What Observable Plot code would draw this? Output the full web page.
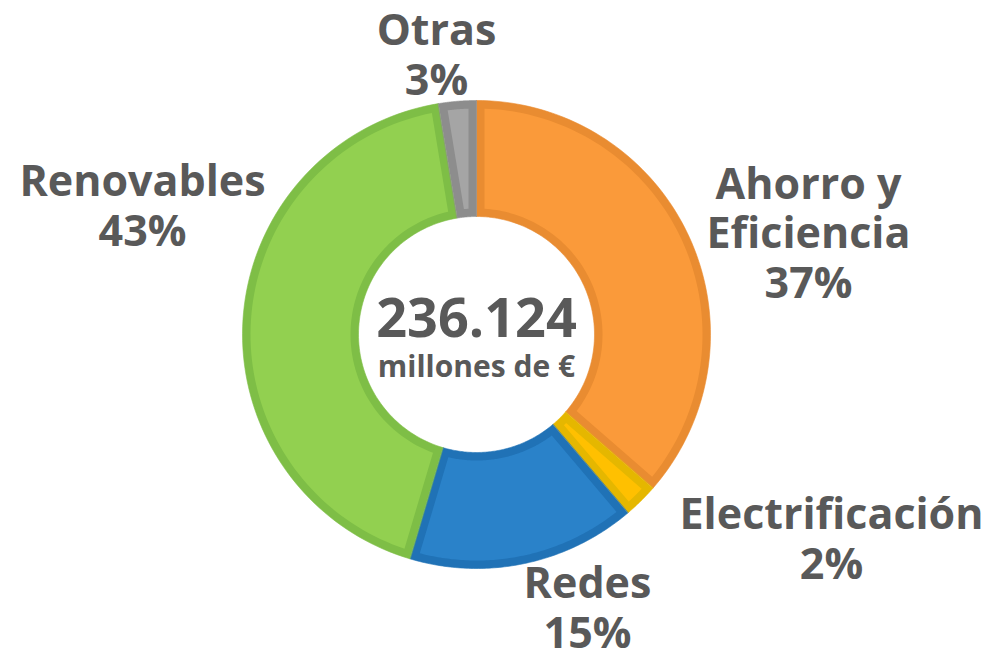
<!DOCTYPE html>
<html>
<head>
<meta charset="utf-8">
<script src="https://cdn.jsdelivr.net/npm/d3@7"></script>
<script src="https://cdn.jsdelivr.net/npm/@observablehq/plot@0.6"></script>
<style>
  html, body { margin: 0; padding: 0; background: #ffffff; }
  #chart { width: 989px; height: 657px; }
</style>
</head>
<body>
<div id="chart"></div>
<script>
// ---- Data ----
const categories = ["Ahorro y Eficiencia", "Electrificación", "Redes", "Renovables", "Otras"];
const labelTexts = ["Ahorro y\nEficiencia", "Electrificación", "Redes", "Renovables", "Otras"];
const shares = [36.4, 2.4, 15.8, 42.8, 2.6];
const percentLabels = ["37%", "2%", "15%", "43%", "3%"];
const totalValue = "236.124";
const totalUnit = "millones de €";

// ---- Styles ----
const fills = ["#FA9A3A", "#FFC000", "#2A82C9", "#92D050", "#A5A5A5"];
const borders = ["#E98C31", "#E5B700", "#2072B6", "#7EBE46", "#8D8D8D"];
const textColor = "#595959";
const fontFamily = "'Open Sans', 'Noto Sans', 'DejaVu Sans', sans-serif";

// ---- Layout ----
const W = 989, H = 657;
const cx = 476, cy = 334;         // donut centre (px)
const R = 234;                    // outer radius (px) = 1 unit
const innerR = 118 / R;           // inner radius (units)
const border = 8 / R;             // border width (units)

// label anchors: centre x and baseline of last line (px), keyed by category
const labelLayout = {
  "Ahorro y Eficiencia": {x: 808, y: 297},
  "Electrificación": {x: 831, y: 578},
  "Redes": {x: 587, y: 647},
  "Renovables": {x: 142, y: 245},
  "Otras": {x: 436, y: 94}
};
const ux = (px) => (px - cx) / R;
const uy = (py) => (cy - py) / R;

// ---- Build slice geometry from the shares ----
const total = d3.sum(shares);
const slices = [];
let acc = 0;
categories.forEach((c, i) => {
  const a0 = acc / total * 2 * Math.PI;
  acc += shares[i];
  const a1 = acc / total * 2 * Math.PI;
  slices.push({category: c, i, a0, a1});
});

function ringPoints(key, color, a0, a1, rin, rout, inset) {
  const pts = [];
  const N = 90;
  const span = (r) => {
    let s = a0, e = a1;
    if (inset > 0) {
      const da = Math.asin(Math.min(1, inset / r));
      s = a0 + da; e = a1 - da;
      if (s > e) { const m = (a0 + a1) / 2; s = m; e = m; }
    }
    return [s, e];
  };
  const ro = rout - inset, ri = rin + inset;
  const [so, eo] = span(ro);
  for (let k = 0; k <= N; k++) {
    const a = so + (eo - so) * k / N;
    pts.push({key, color, x: ro * Math.sin(a), y: ro * Math.cos(a)});
  }
  const [si, ei] = span(ri);
  for (let k = N; k >= 0; k--) {
    const a = si + (ei - si) * k / N;
    pts.push({key, color, x: ri * Math.sin(a), y: ri * Math.cos(a)});
  }
  return pts;
}

const outerPts = slices.flatMap(s => ringPoints("o" + s.i, borders[s.i], s.a0, s.a1, innerR, 1, 0));
const innerPts = slices.flatMap(s => ringPoints("i" + s.i, fills[s.i], s.a0, s.a1, innerR, 1, border));

const labelData = categories.map((c, i) => ({
  text: labelTexts[i] + "\n" + percentLabels[i],
  x: ux(labelLayout[c].x),
  y: uy(labelLayout[c].y)
}));

const chart = Plot.plot({
  width: W,
  height: H,
  margin: 0,
  x: {domain: [ux(0), ux(W)], range: [0, W], axis: null},
  y: {domain: [uy(H), uy(0)], range: [H, 0], axis: null},
  color: {type: "identity"},
  style: {background: "transparent", fontFamily},
  marks: [
    Plot.line(outerPts, {x: "x", y: "y", z: "key", fill: "color", stroke: "color", strokeWidth: 0.6, curve: "linear-closed"}),
    Plot.line(innerPts, {x: "x", y: "y", z: "key", fill: "color", stroke: "none", curve: "linear-closed"}),
    Plot.text(labelData, {
      x: "x", y: "y", text: "text",
      lineAnchor: "bottom", lineHeight: 1.15, textAnchor: "middle",
      fontSize: 43, fontWeight: 700, fontFamily, fill: textColor
    }),
    Plot.text([totalValue], {
      x: () => 0, y: () => uy(336), text: d => d,
      lineAnchor: "bottom", textAnchor: "middle",
      fontSize: 54, fontWeight: 700, fontFamily, fill: textColor
    }),
    Plot.text([totalUnit], {
      x: () => 0, y: () => uy(376), text: d => d,
      lineAnchor: "bottom", textAnchor: "middle",
      fontSize: 30, fontWeight: 700, fontFamily, fill: textColor
    })
  ]
});
document.getElementById("chart").appendChild(chart);
</script>
</body>
</html>
